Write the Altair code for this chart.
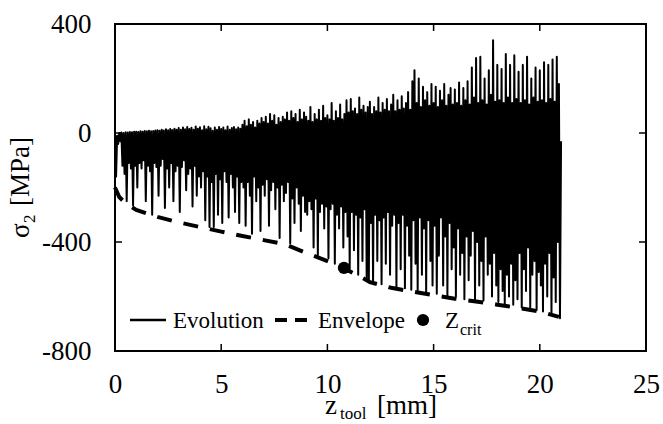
import altair as alt
import pandas as pd

# ---------------- data ----------------
# Evolution of sigma_2 along z_tool [mm]
zx = [
    0.00, 0.05, 0.10, 0.15, 0.20, 0.25, 0.30, 0.35, 0.40, 0.45, 0.50, 0.55, 0.60, 0.65, 0.70, 0.75, 0.80, 0.85, 0.90, 0.95,
    1.00, 1.05, 1.10, 1.15, 1.20, 1.25, 1.30, 1.35, 1.40, 1.45, 1.50, 1.55, 1.60, 1.65, 1.70, 1.75, 1.80, 1.85, 1.90, 1.95,
    2.00, 2.05, 2.10, 2.15, 2.20, 2.25, 2.30, 2.35, 2.40, 2.45, 2.50, 2.55, 2.60, 2.65, 2.70, 2.75, 2.80, 2.85, 2.90, 2.95,
    3.00, 3.05, 3.10, 3.15, 3.20, 3.25, 3.30, 3.35, 3.40, 3.45, 3.50, 3.55, 3.60, 3.65, 3.70, 3.75, 3.80, 3.85, 3.90, 3.95,
    4.00, 4.05, 4.10, 4.15, 4.20, 4.25, 4.30, 4.35, 4.40, 4.45, 4.50, 4.55, 4.60, 4.65, 4.70, 4.75, 4.80, 4.85, 4.90, 4.95,
    5.00, 5.05, 5.10, 5.15, 5.20, 5.25, 5.30, 5.35, 5.40, 5.45, 5.50, 5.55, 5.60, 5.65, 5.70, 5.75, 5.80, 5.85, 5.90, 5.95,
    6.00, 6.05, 6.10, 6.15, 6.20, 6.25, 6.30, 6.35, 6.40, 6.45, 6.50, 6.55, 6.60, 6.65, 6.70, 6.75, 6.80, 6.85, 6.90, 6.95,
    7.00, 7.05, 7.10, 7.15, 7.20, 7.25, 7.30, 7.35, 7.40, 7.45, 7.50, 7.55, 7.60, 7.65, 7.70, 7.75, 7.80, 7.85, 7.90, 7.95,
    8.00, 8.05, 8.10, 8.15, 8.20, 8.25, 8.30, 8.35, 8.40, 8.45, 8.50, 8.55, 8.60, 8.65, 8.70, 8.75, 8.80, 8.85, 8.90, 8.95,
    9.00, 9.05, 9.10, 9.15, 9.20, 9.25, 9.30, 9.35, 9.40, 9.45, 9.50, 9.55, 9.60, 9.65, 9.70, 9.75, 9.80, 9.85, 9.90, 9.95,
    10.00, 10.05, 10.10, 10.15, 10.20, 10.25, 10.30, 10.35, 10.40, 10.45, 10.50, 10.55, 10.60, 10.65, 10.70, 10.75, 10.80, 10.85, 10.90, 10.95,
    11.00, 11.05, 11.10, 11.15, 11.20, 11.25, 11.30, 11.35, 11.40, 11.45, 11.50, 11.55, 11.60, 11.65, 11.70, 11.75, 11.80, 11.85, 11.90, 11.95,
    12.00, 12.05, 12.10, 12.15, 12.20, 12.25, 12.30, 12.35, 12.40, 12.45, 12.50, 12.55, 12.60, 12.65, 12.70, 12.75, 12.80, 12.85, 12.90, 12.95,
    13.00, 13.05, 13.10, 13.15, 13.20, 13.25, 13.30, 13.35, 13.40, 13.45, 13.50, 13.55, 13.60, 13.65, 13.70, 13.75, 13.80, 13.85, 13.90, 13.95,
    14.00, 14.05, 14.10, 14.15, 14.20, 14.25, 14.30, 14.35, 14.40, 14.45, 14.50, 14.55, 14.60, 14.65, 14.70, 14.75, 14.80, 14.85, 14.90, 14.95,
    15.00, 15.05, 15.10, 15.15, 15.20, 15.25, 15.30, 15.35, 15.40, 15.45, 15.50, 15.55, 15.60, 15.65, 15.70, 15.75, 15.80, 15.85, 15.90, 15.95,
    16.00, 16.05, 16.10, 16.15, 16.20, 16.25, 16.30, 16.35, 16.40, 16.45, 16.50, 16.55, 16.60, 16.65, 16.70, 16.75, 16.80, 16.85, 16.90, 16.95,
    17.00, 17.05, 17.10, 17.15, 17.20, 17.25, 17.30, 17.35, 17.40, 17.45, 17.50, 17.55, 17.60, 17.65, 17.70, 17.75, 17.80, 17.85, 17.90, 17.95,
    18.00, 18.05, 18.10, 18.15, 18.20, 18.25, 18.30, 18.35, 18.40, 18.45, 18.50, 18.55, 18.60, 18.65, 18.70, 18.75, 18.80, 18.85, 18.90, 18.95,
    19.00, 19.05, 19.10, 19.15, 19.20, 19.25, 19.30, 19.35, 19.40, 19.45, 19.50, 19.55, 19.60, 19.65, 19.70, 19.75, 19.80, 19.85, 19.90, 19.95,
    20.00, 20.05, 20.10, 20.15, 20.20, 20.25, 20.30, 20.35, 20.40, 20.45, 20.50, 20.55, 20.60, 20.65, 20.70, 20.75, 20.80, 20.85, 20.90, 20.95,
    21.00,
]
zs = [
    0, -160, -10, -40, 0, -30, 2, -120, 0, -150, 3, -250, 2, -110, 4, -130, 3, -265, 5, -120,
    5, -200, 4, -110, 6, -130, 5, -100, 7, -250, 6, -120, 8, -140, 6, -300, 7, -110, 9, -125,
    10, -230, 8, -120, 12, -95, 9, -275, 14, -130, 10, -200, 15, -110, 11, -250, 16, -140, 12, -120,
    18, -290, 12, -125, 20, -100, 14, -210, 22, -150, 15, -130, 19, -270, 12, -120, 24, -230, 16, -160,
    21, -200, 10, -140, 25, -320, 14, -160, 23, -345, 17, -180, 8, -345, 20, -150, 12, -300, 22, -170,
    15, -330, 20, -140, 10, -180, 24, -310, 12, -150, 18, -200, 22, -290, 14, -160, 20, -330, 16, -180,
    30, -200, 45, -340, 25, -180, 50, -230, 30, -370, 40, -160, 20, -250, 45, -200, 35, -360, 55, -190,
    40, -230, 60, -170, 35, -340, 70, -210, 45, -180, 65, -280, 30, -200, 55, -385, 40, -190, 60, -250,
    50, -220, 75, -180, 45, -405, 80, -240, 55, -330, 70, -200, 40, -260, 85, -360, 50, -230, 75, -290,
    60, -300, 45, -250, 95, -280, 40, -420, 70, -240, 50, -450, 85, -290, 45, -260, 100, -350, 55, -270,
    65, -460, 50, -280, 110, -260, 45, -480, 80, -300, 55, -350, 105, -270, 50, -420, 70, -290, 120, -380,
    75, -500, 125, -290, 80, -430, 90, -300, 70, -520, 130, -310, 85, -470, 100, -280, 75, -540, 95, -545,
    115, -330, 70, -550, 95, -300, 80, -470, 130, -320, 75, -555, 110, -310, 85, -480, 125, -290, 80, -520,
    105, -340, 140, -300, 80, -565, 120, -330, 85, -500, 135, -300, 90, -570, 110, -340, 150, -450, 85, -575,
    190, -320, 230, -480, 110, -580, 200, -310, 95, -520, 170, -350, 120, -585, 150, -320, 100, -470, 180, -560,
    110, -340, 170, -590, 95, -450, 155, -310, 120, -560, 180, -380, 100, -600, 140, -330, 165, -500, 105, -420,
    160, -600, 110, -350, 185, -520, 100, -440, 165, -610, 120, -380, 190, -540, 105, -450, 240, -360, 130, -612,
    275, -400, 110, -560, 280, -470, 120, -615, 200, -380, 105, -520, 230, -480, 140, -600, 340, -440, 115, -560,
    250, -620, 120, -500, 235, -580, 110, -630, 290, -520, 130, -600, 250, -480, 110, -630, 285, -540, 125, -610,
    225, -440, 110, -640, 250, -500, 120, -580, 280, -420, 105, -645, 200, -520, 130, -470, 240, -650, 115, -510,
    230, -560, 120, -655, 260, -480, 110, -600, 250, -440, 125, -660, 270, -530, 115, -620, 280, -400, 180, -680,
    -30,
]

# Envelope (dashed)
env_x = [0.0, 0.2, 0.5, 1.0, 2.0, 3.0, 4.0, 5.0, 6.0, 7.0, 8.0, 9.0, 10.0, 10.78,
         11.5, 12.0, 13.0, 14.0, 15.0, 16.0, 17.0, 18.0, 19.0, 20.0, 20.9]
env_y = [-200, -235, -258, -282, -308, -328, -345, -362, -378, -393, -408, -440, -470, -497,
         -525, -547, -568, -582, -595, -608, -618, -630, -642, -655, -675]

# Critical point
crit_x = [10.78]
crit_y = [-495]

x_ticks = [0, 5, 10, 15, 20, 25]
y_ticks = [-800, -400, 0, 400]
x_inner_ticks = [5, 10, 15, 20]
y_inner_ticks = [-400, 0]

# ---------------- chart ----------------
W, H = 531, 327
FONT = "Liberation Serif"

xs = alt.Scale(domain=[0, 25], nice=False, zero=False)
ys = alt.Scale(domain=[-800, 400], nice=False, zero=False)

xaxis = alt.Axis(values=x_ticks, ticks=False, tickSize=0, domain=False, grid=False,
                 labelFont=FONT, labelFontSize=27, labelColor="black", labelPadding=20,
                 labelFlush=False, labelOverlap=False, title=None)
yaxis = alt.Axis(values=y_ticks, ticks=False, tickSize=0, domain=False, grid=False,
                 labelFont=FONT, labelFontSize=27, labelColor="black", labelPadding=24,
                 labelFlush=False, labelOverlap=False, title=None,
                 labelExpr="datum.value < 0 ? '-' + abs(datum.value) : '' + datum.value")

evo = pd.DataFrame({"z": zx, "s": zs, "o": list(range(len(zx)))})
env = pd.DataFrame({"z": env_x, "s": env_y})
crit = pd.DataFrame({"z": crit_x, "s": crit_y})

line = alt.Chart(evo).mark_line(color="black", strokeWidth=2, strokeJoin="round").encode(
    x=alt.X("z:Q", scale=xs, axis=xaxis),
    y=alt.Y("s:Q", scale=ys, axis=yaxis),
    order="o:Q",
)
envelope = alt.Chart(env).mark_line(color="black", strokeWidth=4, strokeDash=[15, 12]).encode(
    x=alt.X("z:Q", scale=xs), y=alt.Y("s:Q", scale=ys)
)
point = alt.Chart(crit).mark_circle(color="black", size=150, opacity=1).encode(
    x=alt.X("z:Q", scale=xs), y=alt.Y("s:Q", scale=ys)
)

# inward ticks on all four sides
txdf = pd.DataFrame({"v": x_inner_ticks})
tydf = pd.DataFrame({"v": y_inner_ticks})
tb = alt.Chart(txdf).mark_rule(color="black", strokeWidth=1.5).encode(
    x=alt.X("v:Q", scale=xs), y=alt.value(H), y2=alt.value(H - 7))
tt = alt.Chart(txdf).mark_rule(color="black", strokeWidth=1.5).encode(
    x=alt.X("v:Q", scale=xs), y=alt.value(0), y2=alt.value(7))
tl = alt.Chart(tydf).mark_rule(color="black", strokeWidth=1.5).encode(
    y=alt.Y("v:Q", scale=ys), x=alt.value(0), x2=alt.value(7))
tr = alt.Chart(tydf).mark_rule(color="black", strokeWidth=1.5).encode(
    y=alt.Y("v:Q", scale=ys), x=alt.value(W), x2=alt.value(W - 7))


def txt(s, x, y, size, angle=0, align="left"):
    return alt.Chart(pd.DataFrame({"t": [s]})).mark_text(
        font=FONT, fontSize=size, color="black", align=align, baseline="alphabetic", angle=angle
    ).encode(x=alt.value(x), y=alt.value(y), text="t:N")


# axis titles with subscripts
ytitle = (txt("σ", -86, 214, 27, angle=270)
          + txt("2", -80, 199, 17, angle=270)
          + txt("[MPa]", -86, 182, 27, angle=270))
xtitle = (txt("z", 210, 390, 27)
          + txt("tool", 225, 395, 17)
          + txt("[mm]", 262, 390, 27))

# legend inside the plot
leg_line = alt.Chart(pd.DataFrame({"a": [0]})).mark_rule(color="black", strokeWidth=2.5).encode(
    x=alt.value(15), x2=alt.value(51), y=alt.value(296))
leg_dash = alt.Chart(pd.DataFrame({"a": [0]})).mark_rule(color="black", strokeWidth=4, strokeDash=[12, 8]).encode(
    x=alt.value(160), x2=alt.value(192), y=alt.value(296))
leg_dot = alt.Chart(pd.DataFrame({"a": [0]})).mark_circle(color="black", size=150, opacity=1).encode(
    x=alt.value(308), y=alt.value(296))
legend = (leg_line + txt("Evolution", 58, 304, 23) + leg_dash + txt("Envelope", 203, 304, 23)
          + leg_dot + txt("Z", 330, 304, 23) + txt("crit", 345, 311, 16))

chart = alt.layer(
    line, envelope, point, tb, tt, tl, tr, ytitle, xtitle, legend
).properties(
    width=W, height=H,
    autosize=alt.AutoSizeParams(type="none"),
    padding={"left": 115, "top": 24, "right": 17, "bottom": 73},
    background="white",
).configure_view(stroke="black", strokeWidth=2)

chart.save("out.html", embed_options={"renderer": "svg", "actions": False})
